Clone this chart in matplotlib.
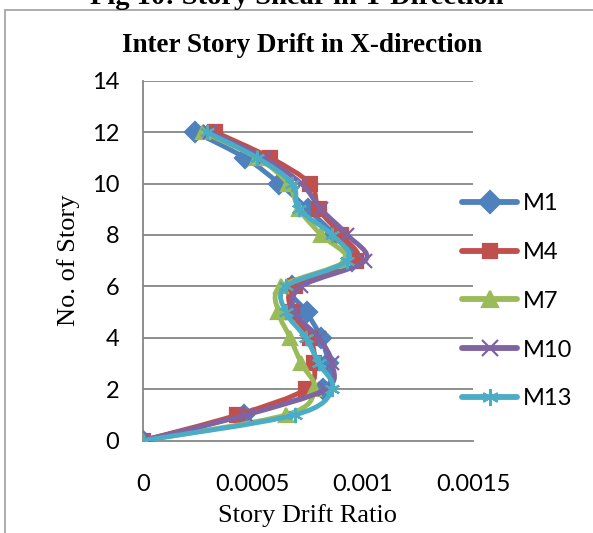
import numpy as np
import matplotlib
matplotlib.use("Agg")
import matplotlib.pyplot as plt
from matplotlib.path import Path
from matplotlib.patches import PathPatch, Rectangle
from matplotlib.lines import Line2D

# Story levels and inter-story drift ratios for each model
stories = [0, 1, 2, 3, 4, 5, 6, 7, 8, 9, 10, 11, 12]
M1 = [0, 0.00046, 0.00082, 0.00084, 0.00081, 0.000745, 0.00068, 0.00095, 0.00087, 0.00075, 0.00062, 0.000465, 0.000238]
M4 = [0, 0.00043, 0.00074, 0.00078, 0.00076, 0.00068, 0.00069, 0.00097, 0.00090, 0.00080, 0.00076, 0.00058, 0.00033]
M7 = [0, 0.00065, 0.00078, 0.00072, 0.00067, 0.000616, 0.00063, 0.00092, 0.00081, 0.00071, 0.00066, 0.00052, 0.000274]
M10 = [0, 0.00047, 0.00083, 0.00086, 0.00080, 0.00069, 0.00072, 0.00101, 0.00093, 0.00081, 0.00072, 0.00055, 0.000306]
M13 = [0, 0.00069, 0.00086, 0.00080, 0.00074, 0.00065, 0.00065, 0.00093, 0.00086, 0.00071, 0.00068, 0.00052, 0.00029]

series_names = ["M1", "M4", "M7", "M10", "M13"]
series_values = [M1, M4, M7, M10, M13]
x_ticks = [0, 0.0005, 0.001, 0.0015]
x_tick_labels = ["0", "0.0005", "0.001", "0.0015"]
y_ticks = [0, 2, 4, 6, 8, 10, 12, 14]

colors = ["#4F81BD", "#C0504D", "#9BBB59", "#8064A2", "#4BACC6"]
markers = ["D", "s", "^", "x", (6, 2, 0)]
msizes = [10, 9.5, 10, 10, 11]

SANS = ["Lato", "DejaVu Sans"]
SERIF = ["Liberation Serif", "DejaVu Serif"]
W, H = 593, 533


def smooth_path(xs, ys):
    """Bezier path through the points, like a spreadsheet 'smoothed line'."""
    pts = np.column_stack([xs, ys]).astype(float)
    n = len(pts)
    verts = [pts[0]]
    codes = [Path.MOVETO]
    for i in range(n - 1):
        p0 = pts[i - 1] if i > 0 else pts[i]
        p1 = pts[i]
        p2 = pts[i + 1]
        p3 = pts[i + 2] if i + 2 < n else pts[i + 1]
        c1 = p1 + (p2 - p0) / 6.0
        c2 = p2 - (p3 - p1) / 6.0
        verts += [c1, c2, p2]
        codes += [Path.CURVE4] * 3
    return Path(verts, codes)


def fx(px):
    return px / W


def fy(py):
    return 1 - py / H


fig = plt.figure(figsize=(W / 100, H / 100), dpi=100)
fig.patch.set_facecolor("white")

# Outer chart frame (runs past the right and bottom edges)
fig.add_artist(Rectangle((fx(5), -0.1), 1.2, fy(10) + 0.1,
                         transform=fig.transFigure, fill=False,
                         edgecolor="#A6A6A6", linewidth=1.3))

# Caption of the figure above the chart
fig.text(fx(297), fy(4), "Fig 10: Story Shear in Y-Direction",
         ha="center", va="baseline", family=SERIF, fontweight="bold",
         fontsize=20.5)

ax = fig.add_axes([fx(142.7), fy(440.6), (473 - 142.7) / W,
                   (440.6 - 80.7) / H])

grid_c = "#868686"
for y in y_ticks[1:]:
    ax.axhline(y, color=grid_c, linewidth=1.3, zorder=1)

for i, (name, vals) in enumerate(zip(series_names, series_values)):
    z = 3 + 2 * i
    ax.add_patch(PathPatch(smooth_path(vals, stories), fill=False,
                           edgecolor=colors[i], linewidth=3.5,
                           capstyle="round", joinstyle="round", zorder=z))
    ax.plot(vals, stories, linestyle="none", marker=markers[i],
            markersize=msizes[i], color=colors[i],
            markeredgecolor=colors[i], markeredgewidth=1.6, zorder=z + 1)

ax.set_xlim(0, 0.0015)
ax.set_ylim(0, 14)
ax.set_xticks(x_ticks)
ax.set_xticklabels(x_tick_labels)
ax.set_yticks(y_ticks)

for s in ["top", "right"]:
    ax.spines[s].set_visible(False)
for s in ["left", "bottom"]:
    ax.spines[s].set_color(grid_c)
    ax.spines[s].set_linewidth(1.3)
ax.tick_params(axis="both", length=0, labelsize=17)
ax.tick_params(axis="x", pad=24)
ax.tick_params(axis="y", pad=17)
for lab in ax.get_xticklabels() + ax.get_yticklabels():
    lab.set_family(SANS)

fig.text(fx(308), fy(516), "Story Drift Ratio", family=SERIF, fontsize=19,
         ha="center", va="center")
fig.text(fx(69), fy(260), "No. of Story", family=SERIF, fontsize=19,
         ha="center", va="center", rotation=90)
fig.text(fx(302), fy(46), "Inter Story Drift in X-direction", family=SERIF,
         fontweight="bold", fontsize=19.5, ha="center", va="center")

handles = [Line2D([0], [0], color=colors[i], linewidth=4.2,
                  solid_capstyle="round", marker=markers[i],
                  markersize=msizes[i] + 1, markeredgecolor=colors[i],
                  markeredgewidth=1.6)
           for i in range(len(series_names))]
leg = fig.legend(handles, series_names, loc="upper left",
                 bbox_to_anchor=(fx(462), fy(193)), borderpad=0,
                 borderaxespad=0, frameon=False, handlelength=2.35,
                 handletextpad=0.22, labelspacing=1.18,
                 prop={"family": SANS, "size": 17})

fig.savefig("out.png", dpi=100, facecolor="white")
